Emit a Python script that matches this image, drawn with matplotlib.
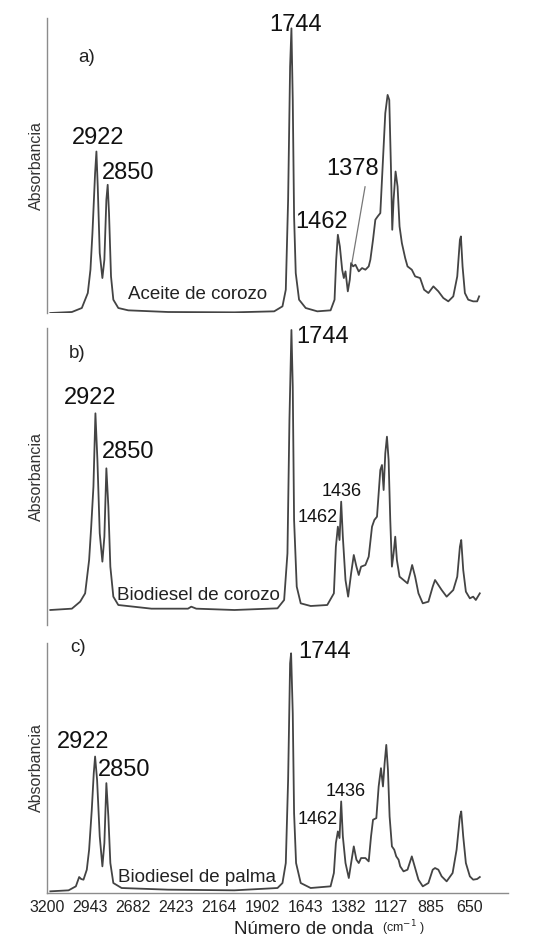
import matplotlib
matplotlib.use('Agg')
import matplotlib.pyplot as plt

plt.rcParams['font.family'] = ['Liberation Sans', 'DejaVu Sans']

W, H = 542, 950
LINE = '#444444'
SPINE = '#8c8c8c'

# x axis
tick_wn = [3200, 2943, 2682, 2423, 2164, 1902, 1643, 1382, 1127, 885, 650]
tick_labels = [str(t) for t in tick_wn]

# a) Aceite de corozo
wn_a = [3180, 3050, 2990, 2954, 2938, 2926, 2910, 2902, 2894, 2882, 2866, 2854,
        2842, 2834, 2826, 2814, 2800, 2770, 2710, 2470, 2070, 1830, 1780, 1760,
        1746, 1734, 1726, 1718, 1710, 1700, 1680, 1640, 1570, 1490, 1466, 1456,
        1446, 1434, 1420, 1410, 1400, 1386, 1374, 1366, 1354, 1340, 1320, 1300,
        1280, 1260, 1250, 1234, 1220, 1206, 1190, 1174, 1160, 1146, 1136, 1126,
        1118, 1110, 1098, 1086, 1074, 1060, 1040, 1026, 1000, 980, 950, 926,
        900, 870, 840, 810, 780, 750, 726, 710, 704, 694, 680, 660, 630, 606, 594]
abs_a = [0, 0.3, 1.5, 6, 13, 24, 42, 48.5, 38, 18, 10.5, 16,
         34, 38.5, 30, 11, 4, 1.5, 0.8, 0.3, 0.2, 0.5, 2, 7,
         34, 74, 85.5, 64, 29, 12, 4, 1.5, 0.5, 0.8, 4, 16,
         23.5, 20, 13, 10.5, 12.5, 6.5, 10, 15, 14, 14.5, 12.5, 13.5,
         13, 14, 16, 22, 28, 29, 30, 46, 60, 65.5, 64, 44,
         25, 34, 42.5, 38, 26, 21, 16.5, 14, 13, 11, 10.5, 7,
         6, 8, 6.5, 4.5, 3.5, 5, 11, 22, 23, 14, 6, 4, 3.5, 3.5, 5]

# b) Biodiesel de corozo
wn_b = [3180, 3050, 3000, 2970, 2946, 2934, 2920, 2908, 2896, 2882, 2866, 2854,
        2842, 2830, 2818, 2800, 2770, 2570, 2350, 2330, 2300, 2070, 1810, 1770,
        1750, 1738, 1726, 1718, 1710, 1694, 1670, 1610, 1510, 1470, 1458, 1446,
        1436, 1426, 1416, 1400, 1384, 1366, 1350, 1334, 1320, 1306, 1280, 1260,
        1240, 1226, 1210, 1190, 1180, 1170, 1160, 1150, 1140, 1130, 1120, 1110,
        1100, 1090, 1074, 1050, 1026, 1010, 998, 980, 960, 934, 900, 874,
        860, 840, 820, 790, 750, 726, 710, 702, 690, 674, 650, 630, 614, 590]
abs_b = [0, 0.4, 2.5, 5, 15, 24.5, 37, 59, 45, 23, 14.5, 22,
         42.5, 31, 13, 4, 1.5, 0.4, 0.4, 1, 0.4, 0, 0.5, 3,
         17, 57, 84, 67, 27, 7, 2, 1.2, 1.5, 5, 19, 25,
         21, 32.5, 22, 9, 4, 11, 16.5, 13, 10.5, 13, 13.5, 16,
         25, 27, 28, 42, 43.5, 36, 47, 52, 45, 27, 13, 17,
         22, 15, 10, 9, 8, 11, 13.5, 10, 5, 2, 2.5, 7,
         9, 7.5, 6, 4, 6, 10, 19, 21, 12, 5.5, 3.5, 4, 3, 5]

# c) Biodiesel de palma
wn_c = [3180, 3070, 3026, 3006, 2994, 2980, 2960, 2946, 2930, 2918, 2910, 2898,
        2882, 2866, 2854, 2842, 2830, 2818, 2800, 2750, 2470, 2070, 1810, 1780,
        1760, 1746, 1734, 1728, 1718, 1710, 1698, 1670, 1610, 1490, 1470, 1458,
        1446, 1436, 1426, 1416, 1400, 1380, 1366, 1350, 1334, 1320, 1306, 1280,
        1260, 1246, 1234, 1214, 1200, 1186, 1174, 1164, 1154, 1144, 1134, 1120,
        1106, 1094, 1080, 1070, 1050, 1026, 1000, 980, 960, 934, 900, 874,
        860, 840, 820, 790, 754, 730, 710, 702, 690, 674, 650, 630, 606, 590]
abs_c = [0.5, 0.8, 2, 4.8, 4.2, 4, 7, 13, 25, 36, 41, 34,
         17, 8, 15, 33, 23, 9, 3, 1.5, 1, 0.8, 1.5, 3,
         9, 34, 69, 72, 54, 24, 9, 3, 1.5, 2, 6, 15,
         18.5, 16.5, 27.5, 17, 9, 4.5, 9, 14, 10, 9, 10.5, 10.5,
         9.5, 17, 22, 22.5, 32, 37.5, 32, 39, 44.5, 37, 23, 14,
         13, 11, 10, 8, 6.5, 7, 11, 7.5, 4, 2, 3, 7,
         7.5, 7, 5, 3.5, 6, 13, 23, 24.5, 17, 9, 5, 4, 4.2, 4.8]

# panel layout in pixels: (top, bottom, ylim)
panels = [
    dict(wn=wn_a, ab=abs_a, top=18, bottom=313, ylim=(0, 88.6)),
    dict(wn=wn_b, ab=abs_b, top=328, bottom=625, ylim=(-4.5, 84.6)),
    dict(wn=wn_c, ab=abs_c, top=643, bottom=893, ylim=(0, 75.1)),
]
X0, X1 = 47, 508

fig = plt.figure(figsize=(W / 100, H / 100), dpi=100)
axes = []
for p in panels:
    ax = fig.add_axes([X0 / W, 1 - p['bottom'] / H, (X1 - X0) / W,
                       (p['bottom'] - p['top']) / H])
    ax.plot(p['wn'], p['ab'], color=LINE, lw=1.3, solid_joinstyle='round')
    ax.set_xlim(3200, 420)
    ax.set_ylim(*p['ylim'])
    for s in ['top', 'right', 'bottom']:
        ax.spines[s].set_visible(False)
    ax.spines['left'].set_color(SPINE)
    ax.spines['left'].set_linewidth(1.0)
    ax.set_yticks([])
    ax.set_xticks([])
    ax.text(-0.022, 0.5, 'Absorbancia', transform=ax.transAxes, rotation=90,
            ha='center', va='center', fontsize=11.5, color='#333333')
    axes.append(ax)

ax_a, ax_b, ax_c = axes
big = dict(fontsize=17, ha='center', va='center', color='#111111')
small = dict(fontsize=13, ha='center', va='center', color='#111111')
name = dict(fontsize=13.5, ha='center', va='center', color='#222222')
letter = dict(fontsize=13.5, ha='center', va='center', color='#222222')

# a)
ax_a.text(2959, 76.6, 'a)', **letter)
ax_a.text(2893, 52.6, '2922', **big)
ax_a.text(2712, 42.1, '2850', **big)
ax_a.text(1699, 86.5, '1744', **big)
ax_a.text(1542, 27.4, '1462', **big)
ax_a.text(1355, 43.3, '1378', **big)
ax_a.plot([1282, 1361], [37.9, 15.1], color='#777777', lw=0.9)
ax_a.text(2295, 5.5, 'Aceite de corozo', **name)

# b)
ax_b.text(3019, 77.1, 'b)', **letter)
ax_b.text(2941, 63.6, '2922', **big)
ax_b.text(2712, 47.4, '2850', **big)
ax_b.text(1536, 81.9, '1744', **big)
ax_b.text(1566, 27.9, '1462', **small)
ax_b.text(1421, 35.7, '1436', **small)
ax_b.text(2289, 4.5, 'Biodiesel de corozo', **name)

# c)
ax_c.text(3013, 73.6, 'c)', **letter)
ax_c.text(2983, 45.4, '2922', **big)
ax_c.text(2736, 37.0, '2850', **big)
ax_c.text(1524, 72.4, '1744', **big)
ax_c.text(1566, 22.0, '1462', **small)
ax_c.text(1397, 30.4, '1436', **small)
ax_c.text(2295, 4.6, 'Biodiesel de palma', **name)

ax_c.spines['bottom'].set_visible(True)
ax_c.spines['bottom'].set_color(SPINE)
ax_c.spines['bottom'].set_linewidth(1.0)
ax_c.set_xticks(tick_wn)
ax_c.set_xticklabels(tick_labels)
ax_c.tick_params(axis='x', length=0, pad=5, labelsize=11.5, labelcolor='#222222')

fig.text(304 / W, 1 - 930 / H, 'Número de onda', fontsize=13.5,
         ha='center', va='center', color='#222222')
fig.text(404 / W, 1 - 928 / H, '(cm$^{-1}$ )', fontsize=9,
         ha='center', va='center', color='#222222')

fig.savefig('out.png', dpi=100)
